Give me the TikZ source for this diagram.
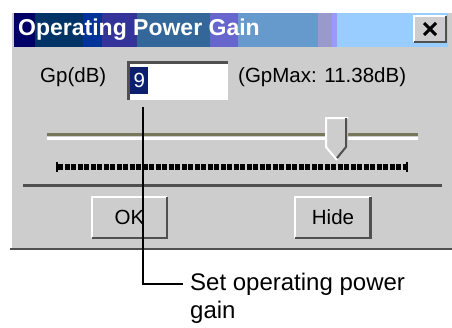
\documentclass[tikz,border=0pt]{standalone}
\usepackage{fontspec}
\setmainfont{Liberation Sans}
\usetikzlibrary{positioning}
\definecolor{dlggray}{HTML}{CDCDCD}
\definecolor{titlenavy}{HTML}{0B1F6E}
\definecolor{shadow}{HTML}{505050}
\definecolor{groove}{HTML}{77775A}
\begin{document}
\begin{tikzpicture}[x=1pt,y=-1pt,
    dlgtext/.style={font=\fontsize{20.5}{24}\selectfont, inner sep=0pt},
    btn/.style={fill=dlggray, minimum width=75pt, minimum height=41pt, inner sep=0pt,
      font=\fontsize{20.5}{24}\selectfont},
    lit/.style={white, line width=2pt},
    dark/.style={shadow, line width=2.5pt},
    callouttext/.style={font=\fontsize{24}{28}\selectfont, inner xsep=7pt, inner ysep=0pt}]
  \useasboundingbox (0,0) rectangle (452,327);
  \fill[white] (0,0) rectangle (452,327);
  % dialog frame
  \fill[dlggray] (10,11) rectangle (452,250);
  \draw[lit] (11,250) -- (11,12) -- (452,12);
  \draw[dark] (10,249) -- (452,249);
  % title bar, in colour bands
  \foreach \xa/\xb/\c in {14/35/000066, 35/83/003366, 83/102/003399, 102/137/333399,
      137/210/336699, 210/238/6666CC, 238/318/6699CC, 318/332/9999CC, 332/337/9999FF,
      337/448/99CCFF} {
    \definecolor{band}{HTML}{\c}
    \fill[band] (\xa,13) rectangle (\xb,47);
  }
  \node[anchor=west, text=white, inner sep=0pt, font=\fontsize{23}{26}\selectfont\bfseries] (title) at (18,30) {Operating Power Gain};
  \node[btn, minimum width=32pt, minimum height=26pt] (close) at (430,29) {};
  \draw[lit] (close.south west) -- (close.north west) -- (close.north east);
  \draw[dark] (close.north east) -- (close.south east) -- (close.south west);
  \draw[line width=3pt] (424,23) -- (436,35) (436,23) -- (424,35);
  % gain entry
  \node[dlgtext, anchor=west] (gp) at (40,77) {Gp(dB)};
  \node[fill=white, minimum width=99pt, minimum height=37pt, inner sep=0pt] (entry) at (178.5,81.5) {};
  \draw[shadow, line width=3pt] (entry.south west) -- (entry.north west) -- (entry.north east);
  \node[dlgtext, fill=titlenavy, text=white, minimum width=18pt, minimum height=27pt, anchor=west] (value) at (130,80.5) {9};
  \node[dlgtext, anchor=west] (gpmax) at (238,77) {(GpMax: 11.38dB)};
  % slider
  \draw[groove, line width=3pt] (47,134) -- (418,134);
  \draw[white, line width=3pt] (47,138) -- (418,138);
  \fill[dlggray] (326,118) -- (348,118) -- (348,147) -- (337,160) -- (326,147) -- cycle;
  \draw[lit] (337,160) -- (326,147) -- (326,118) -- (348,118);
  \draw[dark, line width=2pt] (346,118) -- (346,147) -- (337,158);
  \draw[black, line width=6pt, dash pattern=on 5pt off 1.5pt] (58,167) -- (406,167);
  \draw[black, line width=1.5pt] (57,162) -- (57,172) (407,162) -- (407,172);
  % separator
  \draw[shadow, line width=3pt] (23,185) -- (442,185);
  % buttons
  \node[btn] (ok) at (129.5,217.5) {OK};
  \node[btn] (hide) at (333,217.5) {Hide};
  \foreach \b in {ok,hide} {
    \draw[lit] (\b.south west) -- (\b.north west) -- (\b.north east);
    \draw[dark] (\b.north east) -- (\b.south east) -- (\b.south west);
  }
  % callout
  \coordinate (tip) at (143,107);
  \node[callouttext, anchor=west] (callout) at (183,284) {Set operating power};
  \node[callouttext, anchor=base west] (callout2) at ([yshift=-28pt]callout.base west) {gain};
  \draw[line width=1.3pt] (tip) |- (callout.west);
\end{tikzpicture}
\end{document}
